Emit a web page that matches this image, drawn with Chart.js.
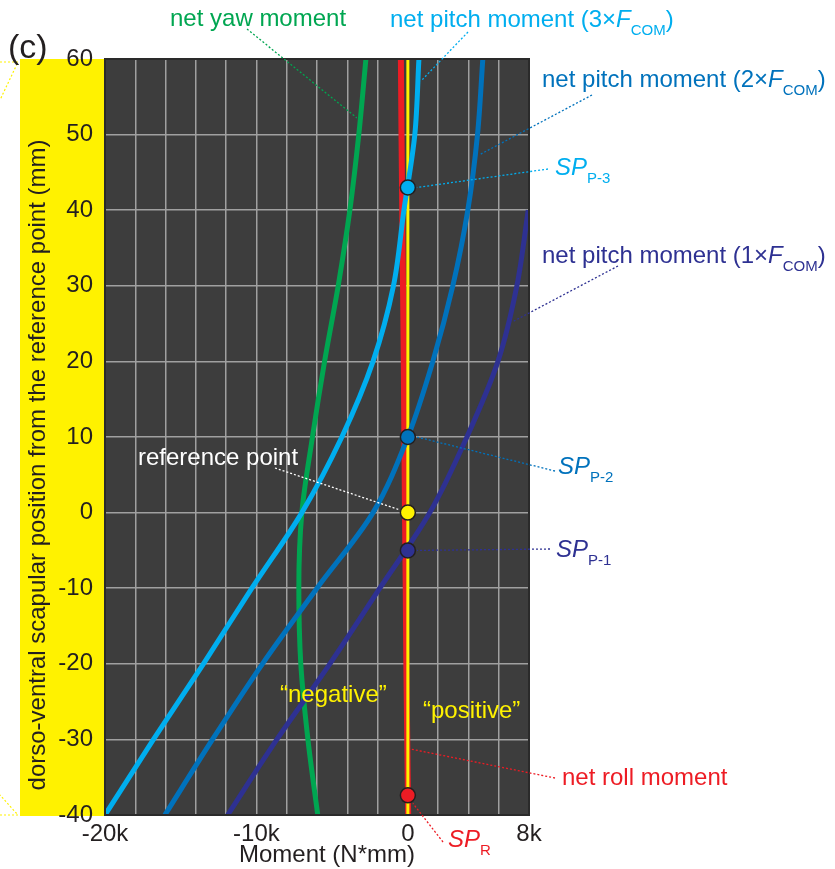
<!DOCTYPE html>
<html>
<head>
<meta charset="utf-8">
<script src="https://cdn.jsdelivr.net/npm/chart.js@4.4.1/dist/chart.umd.min.js"></script>
<style>
  html, body { margin: 0; padding: 0; background: #fff; }
  canvas { display: block; }
</style>
</head>
<body>
<canvas id="chart" width="835" height="869"></canvas>
<script>
// dorso-ventral position (mm) where the curves were read
var posY = [60, 50, 40, 30, 20, 10, 0, -10, -20, -30, -40];
// moments (N*mm)
var yawMoment     = [-2770, -3240, -3830, -4600, -5500, -6300, -7000, -7200, -7070, -6600, -5950];
var pitch3xMoment = [730, 460, -260, -950, -2300, -4360, -7000, -10300, -13500, -16800, -20000];
var pitch2xMoment = [4950, 4600, 3960, 2970, 1650, 0, -2300, -6000, -9600, -12900, -16050];
var pitch1xMoment = [null, null, 7950, 7200, 5950, 3900, 1450, -1850, -5150, -8650, -11900];
var rollMoment    = [-460, -420, -370, -320, -270, -230, -190, -140, -100, -40, 20];

// zero-moment line and the special points on it
var refLineX = [0, 0];
var refLineY = [-40, 60];
var spNames = ['SP P-3', 'SP P-2', 'reference point', 'SP P-1', 'SP R'];
var spX = [0, 0, 0, 0, 0];
var spY = [43, 10, 0, -5, -37.4];

var xTickValues = [-20000, -10000, 0, 8000];
var xTickLabels = ['-20k', '-10k', '0', '8k'];

var FONT = '"Liberation Sans", Arial, Helvetica, sans-serif';
var INK = '#231f20';

function pts(xs, ys) {
  var out = [];
  for (var i = 0; i < ys.length; i++) {
    if (xs[i] !== null) out.push({ x: xs[i], y: ys[i] });
  }
  return out;
}

function curve(label, xs, color, width) {
  return {
    label: label,
    data: pts(xs, posY),
    borderColor: color,
    borderWidth: width,
    pointRadius: 0,
    cubicInterpolationMode: 'monotone',
    clip: 0
  };
}

// text with italics / subscripts, baseline at y
function rich(ctx, x, y, parts, color) {
  var cx = x;
  ctx.fillStyle = color;
  ctx.textAlign = 'left';
  ctx.textBaseline = 'alphabetic';
  parts.forEach(function (p) {
    var size = p.sub ? 15 : 24;
    ctx.font = (p.it ? 'italic ' : '') + size + 'px ' + FONT;
    ctx.fillText(p.t, cx, y + (p.sub ? 8 : 0));
    cx += ctx.measureText(p.t).width;
  });
}

var notes = [
  { parts: [{ t: 'net yaw moment' }], color: '#00a651', x: 170, y: 26, from: [247, 29], to: { x: -3370, y: 52.2 } },
  { parts: [{ t: 'net pitch moment (3×' }, { t: 'F', it: true }, { t: 'COM', sub: true }, { t: ')' }], color: '#00aeef', x: 390, y: 27, from: [468, 32], to: { x: 920, y: 57.2 } },
  { parts: [{ t: 'net pitch moment (2×' }, { t: 'F', it: true }, { t: 'COM', sub: true }, { t: ')' }], color: '#0072bc', x: 542, y: 87, from: [592, 95], to: { x: 4700, y: 47.3 } },
  { parts: [{ t: 'SP', it: true }, { t: 'P-3', sub: true }], color: '#00aeef', x: 555, y: 175, from: [548, 169], to: { x: 0, y: 43 }, dx: 9 },
  { parts: [{ t: 'net pitch moment (1×' }, { t: 'F', it: true }, { t: 'COM', sub: true }, { t: ')' }], color: '#2e3192', x: 542, y: 263, from: [618, 266], to: { x: 6870, y: 25.2 } },
  { parts: [{ t: 'reference point' }], color: '#ffffff', x: 138, y: 465, from: [275, 468], to: { x: 0, y: 0 }, dx: -9, dy: -3 },
  { parts: [{ t: 'SP', it: true }, { t: 'P-2', sub: true }], color: '#0072bc', x: 558, y: 474, from: [555, 471], to: { x: 0, y: 10 }, dx: 9 },
  { parts: [{ t: 'SP', it: true }, { t: 'P-1', sub: true }], color: '#2e3192', x: 556, y: 557, from: [550, 549], to: { x: 0, y: -5 }, dx: 9 },
  { parts: [{ t: 'net roll moment' }], color: '#ed1c24', x: 562, y: 785, from: [555, 778], to: { x: 250, y: -31.3 } },
  { parts: [{ t: 'SP', it: true }, { t: 'R', sub: true }], color: '#ed1c24', x: 448, y: 847, from: [443, 842], to: { x: 0, y: -37.4 }, dx: 5, dy: 8 }
];

var decor = {
  id: 'decor',
  beforeDraw: function (chart) {
    var ctx = chart.ctx, a = chart.chartArea;
    ctx.save();
    ctx.fillStyle = '#ffffff';
    ctx.fillRect(0, 0, chart.width, chart.height);
    ctx.fillStyle = '#fff200';
    ctx.fillRect(20, a.top, a.left - 20, a.bottom - a.top + 1);
    ctx.fillStyle = '#3d3d3d';
    ctx.fillRect(a.left, a.top, a.right - a.left, a.bottom - a.top);

    // yellow dotted leaders at the left edge
    ctx.strokeStyle = '#fff200';
    ctx.lineWidth = 1.2;
    ctx.setLineDash([2, 2]);
    ctx.beginPath();
    ctx.moveTo(0, 62); ctx.lineTo(18, 62); ctx.lineTo(0, 100);
    ctx.moveTo(0, 815); ctx.lineTo(18, 815); ctx.lineTo(0, 795);
    ctx.stroke();
    ctx.setLineDash([]);

    // y title
    ctx.translate(38, 465);
    ctx.rotate(-Math.PI / 2);
    ctx.fillStyle = INK;
    ctx.font = '24px ' + FONT;
    ctx.textAlign = 'center';
    ctx.textBaseline = 'middle';
    ctx.fillText('dorso-ventral scapular position from the reference point (mm)', 0, 0);
    ctx.restore();
  },
  afterDraw: function (chart) {
    var ctx = chart.ctx, a = chart.chartArea;
    var xs = chart.scales.x, ys = chart.scales.y;
    ctx.save();
    ctx.strokeStyle = '#2a2a2a';
    ctx.lineWidth = 2;
    ctx.strokeRect(a.left, a.top, a.right - a.left, a.bottom - a.top);

    notes.forEach(function (n) {
      var tx = xs.getPixelForValue(n.to.x) + (n.dx || 0);
      var ty = ys.getPixelForValue(n.to.y) + (n.dy || 0);
      ctx.strokeStyle = n.color;
      ctx.lineWidth = 1.3;
      ctx.setLineDash([2, 2]);
      ctx.beginPath();
      ctx.moveTo(n.from[0], n.from[1]);
      ctx.lineTo(tx, ty);
      ctx.stroke();
      ctx.setLineDash([]);
      rich(ctx, n.x, n.y, n.parts, n.color);
    });

    rich(ctx, 280, 702, [{ t: '\u201cnegative\u201d' }], '#fff200');
    rich(ctx, 423, 718, [{ t: '\u201cpositive\u201d' }], '#fff200');

    ctx.fillStyle = INK;
    ctx.font = '34px ' + FONT;
    ctx.textAlign = 'left';
    ctx.textBaseline = 'alphabetic';
    ctx.fillText('(c)', 8, 58);

    ctx.font = '24px ' + FONT;
    ctx.textAlign = 'center';
    ctx.fillText('Moment (N*mm)', 327, 862);
    ctx.restore();
  }
};

new Chart(document.getElementById('chart'), {
  type: 'line',
  data: {
    datasets: [
      {
        label: 'special points',
        data: pts(spX, spY),
        showLine: false,
        pointRadius: 7.5,
        pointBackgroundColor: ['#00aeef', '#0072bc', '#fff200', '#2e3192', '#ed1c24'],
        pointBorderColor: INK,
        pointBorderWidth: 1.5,
        clip: false
      },
      curve('net pitch moment (1xF)', pitch1xMoment, '#2e3192', 5),
      curve('net pitch moment (2xF)', pitch2xMoment, '#0072bc', 5),
      curve('net pitch moment (3xF)', pitch3xMoment, '#00aeef', 5),
      curve('net yaw moment', yawMoment, '#00a651', 5),
      {
        label: 'zero',
        data: pts(refLineX, refLineY),
        borderColor: '#fff200',
        borderWidth: 3,
        pointRadius: 0,
        clip: 0
      },
      curve('net roll moment', rollMoment, '#ed1c24', 6)
    ]
  },
  options: {
    responsive: false,
    animation: false,
    indexAxis: 'y',
    layout: { padding: { top: 59, right: 306, bottom: 0, left: 0 } },
    plugins: { legend: { display: false }, tooltip: { enabled: false } },
    scales: {
      x: {
        type: 'linear',
        min: -20000,
        max: 8000,
        afterFit: function (s) { s.height = 54; },
        afterBuildTicks: function (s) {
          var t = [];
          for (var v = -20000; v <= 8000; v += 2000) t.push({ value: v });
          s.ticks = t;
        },
        grid: { color: '#a0a0a0', lineWidth: 1.5, drawTicks: false },
        border: { display: false },
        ticks: {
          autoSkip: false,
          maxRotation: 0,
          padding: 5,
          color: INK,
          font: { family: FONT, size: 24 },
          callback: function (v) {
            var i = xTickValues.indexOf(v);
            return i >= 0 ? xTickLabels[i] : '';
          }
        }
      },
      y: {
        type: 'linear',
        min: -40,
        max: 60,
        afterFit: function (s) { s.width = 105; },
        grid: { color: '#a0a0a0', lineWidth: 1.5, drawTicks: false },
        border: { display: false },
        ticks: {
          stepSize: 10,
          padding: 12,
          color: INK,
          font: { family: FONT, size: 24 }
        }
      }
    }
  },
  plugins: [decor]
});
</script>
</body>
</html>
